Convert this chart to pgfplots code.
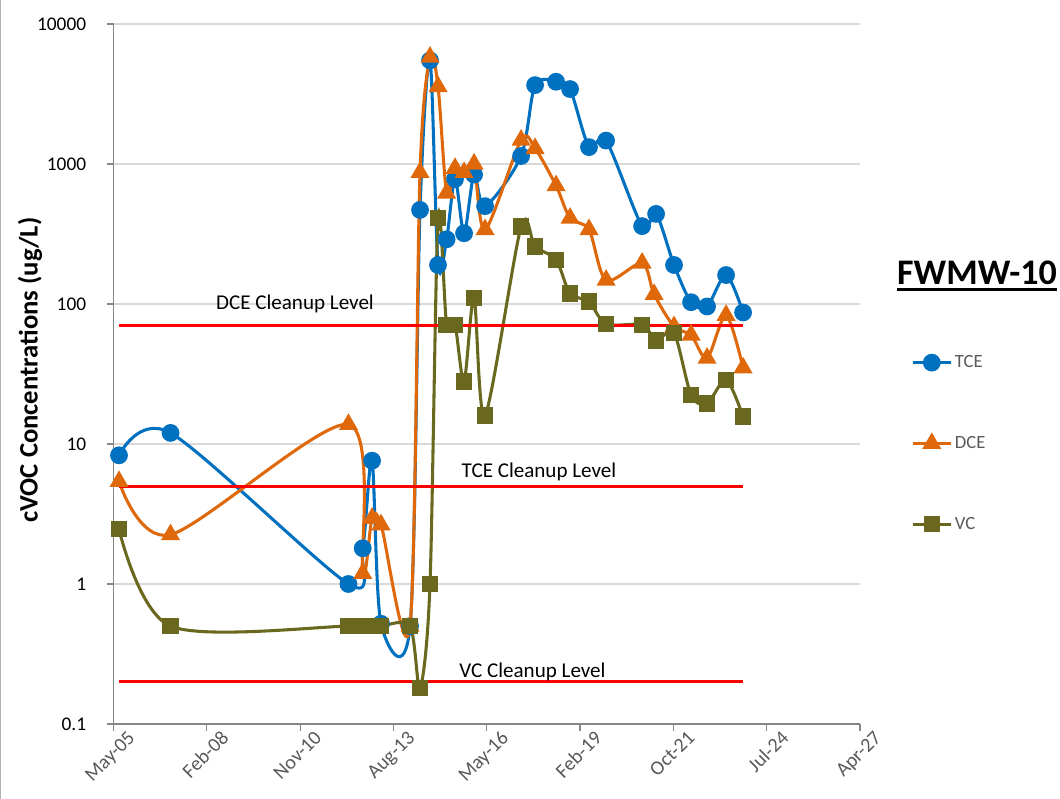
\documentclass[border=0pt]{standalone}
\usepackage{pgfplots}
\pgfplotsset{compat=1.18}
\usepackage{pgfplotstable}
\usepackage{fontspec}
\setmainfont{Carlito}
\definecolor{tceblue}{RGB}{0,112,192}
\definecolor{dceorange}{RGB}{222,104,10}
\definecolor{vcolive}{RGB}{106,104,30}
\definecolor{ticklab}{RGB}{89,89,89}
\definecolor{axgray}{RGB}{134,134,134}
\definecolor{gridgray}{RGB}{217,217,217}

% x = days after May-05 axis origin
\pgfplotstableread{
d y
59 8.3
611 12
2518 1.0
2671 1.8
2771 7.6
2867 0.52
3178 0.5
3285 470
3392 5500
3478 190
3570 290
3660 780
3757 320
3864 840
3982 500
4368 1140
4518 3660
4743 3870
4893 3430
5096 1320
5279 1470
5665 360
5815 440
6007 190
6190 103
6361 96
6565 161
6747 87
}\tce

\pgfplotstableread{
d y
59 5.4
611 2.25
2518 13.8
2671 1.19
2771 2.95
2867 2.65
3178 0.5
3285 870
3392 5800
3478 3570
3570 620
3660 930
3757 870
3864 1000
3982 340
4368 1480
4518 1290
4743 700
4893 410
5096 340
5279 148
5665 196
5794 117
6007 69
6190 60
6361 41
6565 83
6747 35
}\dce

\pgfplotstableread{
d y
59 2.46
611 0.5
2518 0.5
2671 0.5
2771 0.5
2867 0.5
3178 0.5
3285 0.18
3392 1.0
3478 410
3570 71
3660 71
3757 28
3864 110
3982 16
4368 357
4518 257
4743 206
4893 119
5096 104
5279 72
5665 71
5815 55
6007 62
6190 22.4
6361 19.5
6565 28.7
6747 15.7
}\vc

\begin{document}
\begin{tikzpicture}
\useasboundingbox (0pt,0pt) rectangle (795pt,599.25pt);
\draw[gray!60, line width=0.75pt] (0.375pt,0pt) -- (0.375pt,599.25pt);
\begin{axis}[
  at={(85.125pt,56.25pt)}, anchor=south west,
  scale only axis, width=559.875pt, height=525pt,
  xmin=0, xmax=8000, ymin=0.1, ymax=10000, ymode=log,
  xtick={0,1000,...,8000},
  xticklabels={May-05,Feb-08,Nov-10,Aug-13,May-16,Feb-19,Oct-21,Jul-24,Apr-27},
  ytick={0.1,1,10,100,1000,10000},
  yticklabels={0.1,1,10,100,1000,10000},
  yminorticks=false,
  axis x line*=bottom, axis y line*=left,
  axis line style={axgray, line width=0.9pt, -},
  ymajorgrids, grid style={gridgray, line width=0.9pt},
  tick align=outside, major tick length=5pt,
  tick style={axgray, line width=0.9pt},
  x tick label style={rotate=45, anchor=north east, xshift=11pt, yshift=-3pt,
    font=\fontsize{15}{17}\selectfont, text=ticklab},
  y tick label style={font=\fontsize{14.5}{17}\selectfont, text=black, xshift=-12pt},
  every axis plot/.append style={line width=2.3pt, smooth, tension=0.5},
  legend style={draw=none, fill=none, at={(1.063,0.5343)}, anchor=north west,
    row sep=46pt, font=\fontsize{14}{16}\selectfont, text=ticklab},
  legend cell align=left,
  legend image code/.code={\draw[mark repeat=2,mark phase=2,#1] plot coordinates {(0cm,0cm)(0.5cm,0cm)(1cm,0cm)};},
  clip=false,
]
\addplot[tceblue, mark=*, mark size=5.5pt, mark options={solid}] table[x=d,y=y] {\tce};
\addlegendentry{TCE}
\addplot[dceorange, mark=triangle*, mark size=6pt, mark options={solid}] table[x=d,y=y] {\dce};
\addlegendentry{DCE}
\addplot[vcolive, mark=square*, mark size=5pt, mark options={solid}] table[x=d,y=y] {\vc};
\addlegendentry{VC}
\addplot[red, line width=2.3pt, no marks, sharp plot, forget plot] coordinates {(59,70) (6747,70)};
\addplot[red, line width=2.3pt, no marks, sharp plot, forget plot] coordinates {(59,5) (6747,5)};
\addplot[red, line width=2.3pt, no marks, sharp plot, forget plot] coordinates {(59,0.2) (6747,0.2)};
\node[font=\fontsize{15.8}{17}\selectfont, anchor=base] at (axis cs:1945,90.6) {DCE Cleanup Level};
\node[font=\fontsize{15.8}{17}\selectfont, anchor=base] at (axis cs:4560,5.72) {TCE Cleanup Level};
\node[font=\fontsize{15.8}{17}\selectfont, anchor=base] at (axis cs:4490,0.2145) {VC Cleanup Level};
\end{axis}
\node[rotate=90, font=\bfseries\fontsize{20}{22}\selectfont] at (22.5pt,321.75pt) {cVOC Concentrations (ug/L)};
\node[font=\bfseries\fontsize{27}{30}\selectfont, inner sep=0pt, anchor=base] (t) at (732.75pt,385.5pt) {FWMW-10};
\draw[line width=1.6pt] ([yshift=-3pt]t.south west) -- ([yshift=-3pt]t.south east);
\end{tikzpicture}
\end{document}
